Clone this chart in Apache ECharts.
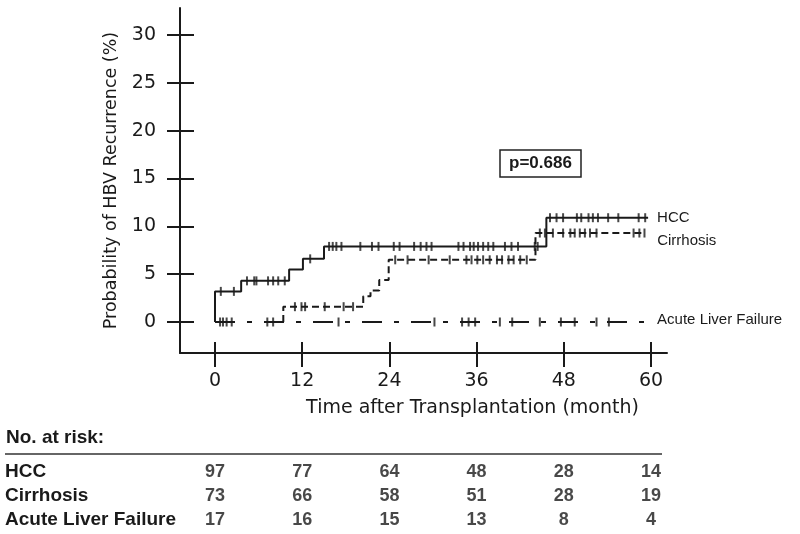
<!DOCTYPE html>
<html>
<head>
<meta charset="utf-8">
<script src="https://cdn.jsdelivr.net/npm/echarts@6/dist/echarts.min.js"></script>
<style>
html,body{margin:0;padding:0;background:#fff;}
#chart{width:800px;height:534px;}
</style>
</head>
<body>
<div id="chart"></div>
<script>
// ---- data ----
const xTicks = [0, 12, 24, 36, 48, 60];
const yTicks = [0, 5, 10, 15, 20, 25, 30];

const hccTime = [0, 0, 3.6, 10.2, 12.1, 15.0, 45.6, 59.6];
const hccPct  = [0, 3.2, 4.3, 5.5, 6.6, 7.9, 10.9, 10.9];
const cirTime = [9.4, 9.4, 20.4, 21.4, 22.6, 23.9, 44.1, 59.2];
const cirPct  = [0, 1.6, 2.7, 3.3, 4.4, 6.5, 9.3, 9.3];
const alfTime = [0, 59.6];
const alfPct  = [0, 0];

const hccCensor = [0.8, 2.6, 4.4, 5.4, 5.7, 7.3, 8.0, 8.7, 9.6, 13.1, 15.7, 16.2, 16.7, 17.4, 20.0, 21.6, 22.5, 24.6, 25.4, 27.4, 28.3, 29.1, 29.8, 33.5, 34.2, 35.1, 35.6, 36.2, 36.9, 37.6, 38.3, 39.9, 40.8, 41.7, 44.0, 44.4, 46.1, 47.0, 47.9, 49.8, 50.4, 51.4, 52.0, 52.7, 54.1, 55.5, 58.3, 59.2];
const cirCensor = [11.0, 11.9, 12.4, 15.1, 17.7, 19.0, 24.8, 26.5, 29.4, 32.3, 34.6, 35.3, 36.1, 36.9, 37.8, 38.8, 39.5, 40.4, 41.1, 42.0, 42.9, 44.7, 45.4, 46.5, 47.9, 48.9, 49.5, 50.2, 50.9, 51.6, 52.5, 57.6, 58.4, 59.1];
const alfCensor = [0.7, 1.1, 1.6, 2.3, 7.2, 8.0, 17.0, 30.2, 34.0, 34.9, 35.8, 39.2, 40.9, 44.7, 47.6, 49.5, 52.5, 54.2];

const groupNames = ['HCC', 'Cirrhosis', 'Acute Liver Failure'];
const riskTimes = [0, 12, 24, 36, 48, 60];
const riskHCC = [97, 77, 64, 48, 28, 14];
const riskCir = [73, 66, 58, 51, 28, 19];
const riskALF = [17, 16, 15, 13, 8, 4];
const pText = 'p=0.686';

// ---- helpers ----
function pairs(ts, vs) { return ts.map((t, i) => [t, vs[i]]); }
function levelAt(ts, vs, t) {
  let v = vs[0];
  for (let i = 0; i < ts.length; i++) { if (ts[i] <= t) v = vs[i]; }
  return v;
}
function censorPts(cs, ts, vs) { return cs.map(t => [t, levelAt(ts, vs, t)]); }

const INK = '#1a1a1a';
const SANS = 'DejaVu Sans';
const ARIAL = 'Liberation Sans';
const X_MIN = -4.816, X_MAX = 62.2;
const Y_MIN = -3.24, Y_MAX = 32.82;

const riskRows = [riskHCC, riskCir, riskALF];
const riskData = [];
riskRows.forEach((row, r) => {
  row.forEach((n, i) => riskData.push([riskTimes[i], groupNames[r], n]));
});

const chart = echarts.init(document.getElementById('chart'), null, { renderer: 'canvas' });

const lineBase = {
  type: 'line', step: 'end', symbol: 'none', xAxisIndex: 0, yAxisIndex: 0,
  animation: false, silent: true
};
const censorBase = {
  type: 'scatter', symbol: 'rect', symbolSize: [2, 9], xAxisIndex: 0, yAxisIndex: 0,
  itemStyle: { color: INK }, animation: false, silent: true, z: 3
};

chart.setOption({
  animation: false,
  backgroundColor: '#fff',
  title: {
    text: pText, left: 500, top: 150,
    padding: [5, 9], borderColor: '#222', borderWidth: 1.5,
    textStyle: { fontFamily: ARIAL, fontWeight: 'bold', fontSize: 17, color: INK }
  },
  grid: [
    { left: 180, right: 133, top: 8, bottom: 181 },
    { left: 180, right: 133, top: 460, height: 72 }
  ],
  xAxis: [
    {
      type: 'value', gridIndex: 0, min: X_MIN, max: X_MAX, position: 'bottom',
      axisLine: { show: true, onZero: false, lineStyle: { color: INK, width: 2 } },
      axisTick: { show: true, customValues: xTicks, length: 14, inside: false, lineStyle: { color: INK, width: 2 } },
      axisLabel: { show: true, customValues: xTicks, margin: 19, fontFamily: SANS, fontSize: 19, color: INK },
      splitLine: { show: false },
      name: 'Time after Transplantation (month)', nameLocation: 'middle', nameGap: 46,
      nameTextStyle: { fontFamily: SANS, fontSize: 19, color: INK, padding: [0, 0, 0, 98] }
    },
    {
      type: 'value', gridIndex: 0, min: X_MIN, max: X_MAX, position: 'bottom', offset: 0,
      axisLine: { show: false, onZero: false },
      axisTick: { show: true, customValues: xTicks, length: 11, inside: true, lineStyle: { color: INK, width: 2 } },
      axisLabel: { show: false }, splitLine: { show: false }
    },
    {
      type: 'value', gridIndex: 1, min: X_MIN, max: X_MAX, show: false
    }
  ],
  yAxis: [
    {
      type: 'value', gridIndex: 0, min: Y_MIN, max: Y_MAX, position: 'left',
      axisLine: { show: true, onZero: false, lineStyle: { color: INK, width: 2 } },
      axisTick: { show: true, customValues: yTicks, length: 13, inside: false, lineStyle: { color: INK, width: 2 } },
      axisLabel: { show: true, customValues: yTicks, margin: 24, fontFamily: SANS, fontSize: 19, color: INK },
      splitLine: { show: false },
      name: 'Probability of HBV Recurrence (%)', nameLocation: 'middle', nameGap: 60,
      nameTextStyle: { fontFamily: SANS, fontSize: 17.5, color: INK }
    },
    {
      type: 'category', gridIndex: 1, data: groupNames, inverse: true, position: 'left',
      axisLine: { show: false, onZero: false }, axisTick: { show: false }, splitLine: { show: false },
      axisLabel: { show: true, interval: 0, hideOverlap: false, align: 'left', margin: 175, fontFamily: ARIAL, fontWeight: 'bold', fontSize: 19, color: INK }
    },
    {
      type: 'value', gridIndex: 0, min: Y_MIN, max: Y_MAX, position: 'left', offset: 0,
      axisLine: { show: false, onZero: false },
      axisTick: { show: true, customValues: yTicks, length: 14, inside: true, lineStyle: { color: INK, width: 2 } },
      axisLabel: { show: false }, splitLine: { show: false }
    }
  ],
  graphic: [
    { type: 'text', left: 6, top: 428, style: { text: 'No. at risk:', font: 'bold 19px "Liberation Sans"', fill: INK } },
    { type: 'line', shape: { x1: 5, y1: 454, x2: 662, y2: 454 }, style: { stroke: '#666', lineWidth: 2 } }
  ],
  series: [
    Object.assign({}, lineBase, {
      name: 'Acute Liver Failure', data: pairs(alfTime, alfPct),
      lineStyle: { color: INK, width: 1.8, type: [20, 12, 5, 12] },
      endLabel: { show: true, formatter: '{a}', distance: 0, offset: [9, -2], fontFamily: ARIAL, fontSize: 15, color: INK }
    }),
    Object.assign({}, lineBase, {
      name: 'Cirrhosis', data: pairs(cirTime, cirPct),
      lineStyle: { color: INK, width: 2, type: [7, 4] },
      endLabel: { show: true, formatter: '{a}', distance: 0, offset: [12, 8], fontFamily: ARIAL, fontSize: 15, color: INK }
    }),
    Object.assign({}, lineBase, {
      name: 'HCC', data: pairs(hccTime, hccPct),
      lineStyle: { color: INK, width: 2 },
      endLabel: { show: true, formatter: '{a}', distance: 0, offset: [9, 0], fontFamily: ARIAL, fontSize: 15, color: INK }
    }),
    Object.assign({}, censorBase, { name: 'HCC censored', data: censorPts(hccCensor, hccTime, hccPct) }),
    Object.assign({}, censorBase, { name: 'Cirrhosis censored', data: censorPts(cirCensor, cirTime, cirPct) }),
    Object.assign({}, censorBase, { name: 'ALF censored', data: censorPts(alfCensor, alfTime, alfPct) }),
    {
      type: 'scatter', name: 'No. at risk', xAxisIndex: 2, yAxisIndex: 1,
      data: riskData, symbolSize: 0, silent: true, animation: false,
      label: {
        show: true, position: 'inside', formatter: p => String(p.value[2]),
        fontFamily: ARIAL, fontWeight: 'bold', fontSize: 18, color: INK
      }
    }
  ]
});
</script>
</body>
</html>
